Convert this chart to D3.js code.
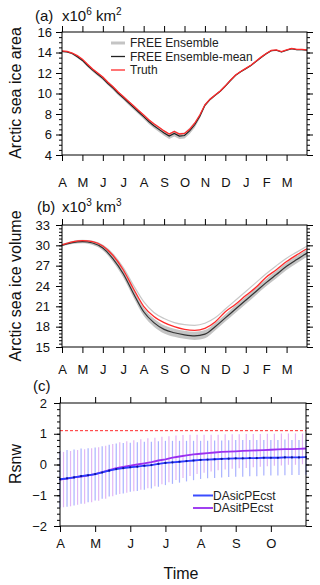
<!DOCTYPE html>
<html>
<head>
<meta charset="utf-8">
<script src="https://cdn.jsdelivr.net/npm/d3@7"></script>
<style>
body { margin: 0; background: #fff; }
svg { display: block; font-family: "Liberation Sans", Arial, Helvetica, sans-serif; }
</style>
</head>
<body>
<script>
// month tick labels
var monthsYear = ["A", "M", "J", "J", "A", "S", "O", "N", "D", "J", "F", "M"];
var monthsSeason = ["A", "M", "J", "J", "A", "S", "O"];

// (a) sea ice area (x10^6 km2), every quarter month from 1 April
var areaTruth = [14.15, 14.1, 13.95, 13.7, 13.35, 12.85, 12.4, 12.0, 11.6, 11.1, 10.65, 10.15, 9.7, 9.25, 8.8, 8.35, 7.9, 7.45, 7.05, 6.7, 6.35, 6.05, 6.3, 6.05, 6.1, 6.5, 7.1, 7.9, 8.9, 9.45, 9.85, 10.25, 10.75, 11.3, 11.8, 12.15, 12.45, 12.75, 13.15, 13.55, 13.9, 14.2, 14.25, 14.08, 14.25, 14.4, 14.3, 14.3, 14.25];
var areaMean = [14.1, 14.05, 13.9, 13.58, 13.23, 12.73, 12.28, 11.88, 11.48, 10.98, 10.53, 10.03, 9.58, 9.12, 8.66, 8.2, 7.74, 7.27, 6.86, 6.5, 6.15, 5.85, 6.1, 5.85, 5.9, 6.35, 6.95, 7.78, 8.85, 9.42, 9.82, 10.22, 10.72, 11.27, 11.77, 12.12, 12.42, 12.72, 13.12, 13.52, 13.87, 14.17, 14.22, 14.05, 14.22, 14.37, 14.27, 14.27, 14.22];
var areaSpread = [0.08, 0.08, 0.1, 0.12, 0.14, 0.15, 0.16, 0.17, 0.18, 0.18, 0.19, 0.2, 0.2, 0.21, 0.22, 0.22, 0.23, 0.24, 0.25, 0.26, 0.27, 0.28, 0.3, 0.3, 0.3, 0.3, 0.28, 0.22, 0.15, 0.12, 0.1, 0.1, 0.1, 0.1, 0.08, 0.08, 0.08, 0.08, 0.08, 0.08, 0.08, 0.08, 0.08, 0.08, 0.08, 0.08, 0.08, 0.08, 0.08];

// (b) sea ice volume (x10^3 km3), every half month from 1 April
var volTruth = [30.05, 30.5, 30.7, 30.55, 29.9, 28.5, 26.4, 23.6, 21.0, 19.5, 18.6, 18.0, 17.6, 17.45, 17.75, 18.7, 20.2, 21.3, 22.6, 23.8, 25.3, 26.4, 27.6, 28.6, 29.5];
var volMean = [30.0, 30.4, 30.55, 30.35, 29.6, 28.0, 25.8, 22.9, 20.2, 18.6, 17.6, 17.1, 16.8, 16.65, 16.9, 18.0, 19.3, 20.6, 21.9, 23.2, 24.5, 25.7, 26.9, 27.9, 28.85];
var volSpread = [0.15, 0.2, 0.25, 0.3, 0.35, 0.45, 0.55, 0.6, 0.6, 0.6, 0.6, 0.6, 0.6, 0.6, 0.6, 0.55, 0.55, 0.55, 0.55, 0.55, 0.55, 0.55, 0.55, 0.55, 0.55];
var volTop = [30.1, 30.55, 30.75, 30.6, 30.0, 28.7, 26.7, 24.1, 21.7, 20.1, 19.2, 18.6, 18.3, 18.2, 18.5, 19.3, 20.6, 21.9, 23.2, 24.5, 25.8, 27.0, 28.1, 29.0, 29.9];

// (c) Rsnw, every 0.2 month from 1 April
var sicMean = [-0.48, -0.45, -0.42, -0.38, -0.35, -0.31, -0.26, -0.2, -0.15, -0.12, -0.09, -0.07, -0.04, -0.02, 0.02, 0.05, 0.07, 0.09, 0.11, 0.13, 0.15, 0.16, 0.17, 0.18, 0.19, 0.2, 0.2, 0.21, 0.21, 0.22, 0.22, 0.22, 0.23, 0.23, 0.23, 0.24];
var sicStd = [0.92, 0.92, 0.91, 0.9, 0.88, 0.86, 0.85, 0.84, 0.83, 0.82, 0.8, 0.79, 0.78, 0.76, 0.74, 0.72, 0.7, 0.68, 0.66, 0.64, 0.62, 0.61, 0.61, 0.6, 0.6, 0.6, 0.6, 0.59, 0.59, 0.58, 0.58, 0.58, 0.58, 0.57, 0.57, 0.57];
var sitMean = [-0.49, -0.46, -0.42, -0.39, -0.35, -0.31, -0.25, -0.18, -0.12, -0.08, -0.04, 0.0, 0.04, 0.08, 0.13, 0.17, 0.22, 0.26, 0.3, 0.33, 0.35, 0.37, 0.39, 0.41, 0.42, 0.43, 0.44, 0.45, 0.46, 0.47, 0.48, 0.49, 0.5, 0.5, 0.51, 0.52];
var sitStd = [0.9, 0.9, 0.89, 0.89, 0.88, 0.87, 0.86, 0.85, 0.84, 0.84, 0.83, 0.82, 0.81, 0.79, 0.77, 0.75, 0.72, 0.7, 0.67, 0.64, 0.62, 0.6, 0.58, 0.57, 0.56, 0.55, 0.55, 0.54, 0.53, 0.53, 0.52, 0.52, 0.51, 0.51, 0.5, 0.5];
var rsnwRef = 1.1;

var areaTime = d3.range(areaTruth.length).map(function(i) { return i * 0.25; });
var volTime = d3.range(volTruth.length).map(function(i) { return i * 0.5; });
var rsTime = d3.range(sicMean.length).map(function(i) { return i * 0.2; });

var svg = d3.select("body").append("svg").attr("width", 320).attr("height", 585);

//draw box, ticks on all four sides (outward), minor ticks on y
function frame(g, x, y, o) {
  var w = x.range()[1], h = y.range()[0];
  var bottom = g.append("g").attr("transform", "translate(0," + h + ")")
    .call(d3.axisBottom(x).tickValues(o.xt).tickFormat(function(d, i) { return o.xl[i]; })
      .tickSize(6).tickPadding(o.xPad));
  var top = g.append("g").call(d3.axisTop(x).tickValues(o.xt).tickFormat("").tickSize(6));
  var left = g.append("g").call(d3.axisLeft(y).tickValues(o.yt).tickFormat(o.yf || d3.format("d"))
    .tickSize(6).tickPadding(o.yPad));
  var leftMin = g.append("g").call(d3.axisLeft(y).tickValues(o.ym).tickFormat("").tickSize(3));
  var right = g.append("g").attr("transform", "translate(" + w + ",0)")
    .call(d3.axisRight(y).tickValues(o.yt).tickFormat("").tickSize(6));
  var rightMin = g.append("g").attr("transform", "translate(" + w + ",0)")
    .call(d3.axisRight(y).tickValues(o.ym).tickFormat("").tickSize(3));
  [bottom, top, left, leftMin, right, rightMin].forEach(function(a) {
    a.select(".domain").remove();
    a.selectAll("line").attr("stroke", "#000").attr("stroke-width", 1);
    a.selectAll("text").attr("font-size", 13).attr("fill", "#111")
      .attr("font-family", "'Liberation Sans', Arial, sans-serif");
  });
  g.append("rect").attr("width", w).attr("height", h)
    .attr("fill", "none").attr("stroke", "#000").attr("stroke-width", 1);
}

function ylabel(text, cx, cy) {
  svg.append("text").attr("transform", "translate(" + cx + "," + cy + ") rotate(-90)")
    .attr("text-anchor", "middle").attr("font-size", 16).attr("fill", "#111").text(text);
}

function title(tag, x0, y0, unit, sup) {
  svg.append("text").attr("x", x0).attr("y", y0).attr("font-size", 15).attr("fill", "#111").text(tag);
  var t = svg.append("text").attr("x", 62).attr("y", y0).attr("font-size", 15).attr("fill", "#111");
  t.append("tspan").text("x10");
  t.append("tspan").attr("dy", -6).attr("font-size", 10).text(sup);
  t.append("tspan").attr("dy", 6).text(" " + unit);
  t.append("tspan").attr("dy", -6).attr("font-size", 10).text(sup === "6" ? "2" : "3");
}

// ---------- (a) area ----------
var ga = svg.append("g").attr("transform", "translate(62,32)");
var xa = d3.scaleLinear().domain([0, 12]).range([0, 245]);
var ya = d3.scaleLinear().domain([4, 16]).range([123, 0]);

ga.append("path").datum(areaTime)
  .attr("fill", "#c4c4c4")
  .attr("d", d3.area().x(function(t) { return xa(t); })
    .y0(function(t, i) { return ya(areaMean[i] - areaSpread[i]); })
    .y1(function(t, i) { return ya(areaMean[i] + areaSpread[i]); }));
ga.append("path").datum(areaTime).attr("fill", "none").attr("stroke", "#222").attr("stroke-width", 1.2)
  .attr("d", d3.line().x(function(t) { return xa(t); }).y(function(t, i) { return ya(areaMean[i]); }));
ga.append("path").datum(areaTime).attr("fill", "none").attr("stroke", "#ff2a2a").attr("stroke-width", 1.3)
  .attr("d", d3.line().x(function(t) { return xa(t); }).y(function(t, i) { return ya(areaTruth[i]); }));

frame(ga, xa, ya, {
  xt: d3.range(12), xl: monthsYear, xPad: 17,
  yt: d3.range(4, 17, 2), ym: d3.range(4, 16.01, 0.5), yPad: 4
});

// legend (a)
var legA = [
  {name: "FREE Ensemble", color: "#c4c4c4", w: 3},
  {name: "FREE Ensemble-mean", color: "#222", w: 1.3},
  {name: "Truth", color: "#ff2a2a", w: 1.3}
];
legA.forEach(function(d, i) {
  var yy = 43 + i * 13.5;
  svg.append("line").attr("x1", 111).attr("x2", 125).attr("y1", yy).attr("y2", yy)
    .attr("stroke", d.color).attr("stroke-width", d.w);
  svg.append("text").attr("x", 130).attr("y", yy + 4.3).attr("font-size", 12).attr("fill", "#222").text(d.name);
});

title("(a)", 35, 21, "km", "6");
ylabel("Arctic sea ice area", 21, 93);

// ---------- (b) volume ----------
var gb = svg.append("g").attr("transform", "translate(62,225)");
var xb = d3.scaleLinear().domain([0, 12]).range([0, 245]);
var yb = d3.scaleLinear().domain([15, 33]).range([122, 0]);
var curve = d3.curveMonotoneX;

gb.append("path").datum(volTime)
  .attr("fill", "#c4c4c4")
  .attr("d", d3.area().curve(curve).x(function(t) { return xb(t); })
    .y0(function(t, i) { return yb(volMean[i] - volSpread[i]); })
    .y1(function(t, i) { return yb(volMean[i] + volSpread[i]); }));
gb.append("path").datum(volTime).attr("fill", "none").attr("stroke", "#c8c8c8").attr("stroke-width", 1.2)
  .attr("d", d3.line().curve(curve).x(function(t) { return xb(t); }).y(function(t, i) { return yb(volTop[i]); }));
gb.append("path").datum(volTime).attr("fill", "none").attr("stroke", "#333").attr("stroke-width", 1.2)
  .attr("d", d3.line().curve(curve).x(function(t) { return xb(t); }).y(function(t, i) { return yb(volMean[i]); }));
gb.append("path").datum(volTime).attr("fill", "none").attr("stroke", "#ff2a2a").attr("stroke-width", 1.3)
  .attr("d", d3.line().curve(curve).x(function(t) { return xb(t); }).y(function(t, i) { return yb(volTruth[i]); }));

frame(gb, xb, yb, {
  xt: d3.range(12), xl: monthsYear, xPad: 12,
  yt: d3.range(15, 34, 3), ym: d3.range(15, 33.01, 0.5), yPad: 6
});

title("(b)", 37, 212, "km", "3");
ylabel("Arctic sea ice volume", 21, 286);

// ---------- (c) Rsnw ----------
var gc = svg.append("g").attr("transform", "translate(60,403)");
var xc = d3.scaleLinear().domain([0, 7]).range([0, 246]);
var yc = d3.scaleLinear().domain([-2, 2]).range([123, 0]);

//error bars, purple shifted half a step
gc.selectAll(".bsic").data(rsTime).enter().append("line")
  .attr("x1", function(t) { return xc(t); }).attr("x2", function(t) { return xc(t); })
  .attr("y1", function(t, i) { return yc(sicMean[i] - sicStd[i]); })
  .attr("y2", function(t, i) { return yc(sicMean[i] + sicStd[i]); })
  .attr("stroke", "#aab2ff").attr("stroke-width", 1.2);
gc.selectAll(".bsit").data(rsTime.filter(function(t) { return t + 0.1 < 7; })).enter().append("line")
  .attr("x1", function(t) { return xc(t + 0.1); }).attr("x2", function(t) { return xc(t + 0.1); })
  .attr("y1", function(t, i) { return yc(sitMean[i] - sitStd[i]); })
  .attr("y2", function(t, i) { return yc(sitMean[i] + sitStd[i]); })
  .attr("stroke", "#e2b6f5").attr("stroke-width", 1.2);

gc.append("line").attr("x1", 0).attr("x2", 246).attr("y1", yc(rsnwRef)).attr("y2", yc(rsnwRef))
  .attr("stroke", "#ff2a2a").attr("stroke-width", 1).attr("stroke-dasharray", "3,2");

gc.append("path").datum(rsTime).attr("fill", "none").attr("stroke", "#9b30f0").attr("stroke-width", 1.8)
  .attr("d", d3.line().x(function(t) { return xc(t); }).y(function(t, i) { return yc(sitMean[i]); }));
gc.append("path").datum(rsTime).attr("fill", "none").attr("stroke", "#2a3cff").attr("stroke-width", 1.8)
  .attr("d", d3.line().x(function(t) { return xc(t); }).y(function(t, i) { return yc(sicMean[i]); }));
gc.selectAll(".dot").data(rsTime).enter().append("circle")
  .attr("cx", function(t) { return xc(t); }).attr("cy", function(t, i) { return yc(sicMean[i]); })
  .attr("r", 1.1).attr("fill", "#10109a");

frame(gc, xc, yc, {
  xt: d3.range(7), xl: monthsSeason, xPad: 7,
  yt: d3.range(-2, 3, 1), ym: d3.range(-2, 2.01, 0.2), yPad: 7
});

var legC = [
  {name: "DAsicPEcst", color: "#3a4cff"},
  {name: "DAsitPEcst", color: "#a040f0"}
];
legC.forEach(function(d, i) {
  var yy = 495.5 + i * 12.5;
  svg.append("line").attr("x1", 193).attr("x2", 213).attr("y1", yy).attr("y2", yy)
    .attr("stroke", d.color).attr("stroke-width", 2);
  svg.append("text").attr("x", 213).attr("y", yy + 4.2).attr("font-size", 12).attr("fill", "#222").text(d.name);
});

svg.append("text").attr("x", 33).attr("y", 391).attr("font-size", 15).attr("fill", "#111").text("(c)");
ylabel("Rsnw", 21, 464);
svg.append("text").attr("x", 181).attr("y", 579).attr("text-anchor", "middle")
  .attr("font-size", 16).attr("fill", "#111").text("Time");
</script>
</body>
</html>
